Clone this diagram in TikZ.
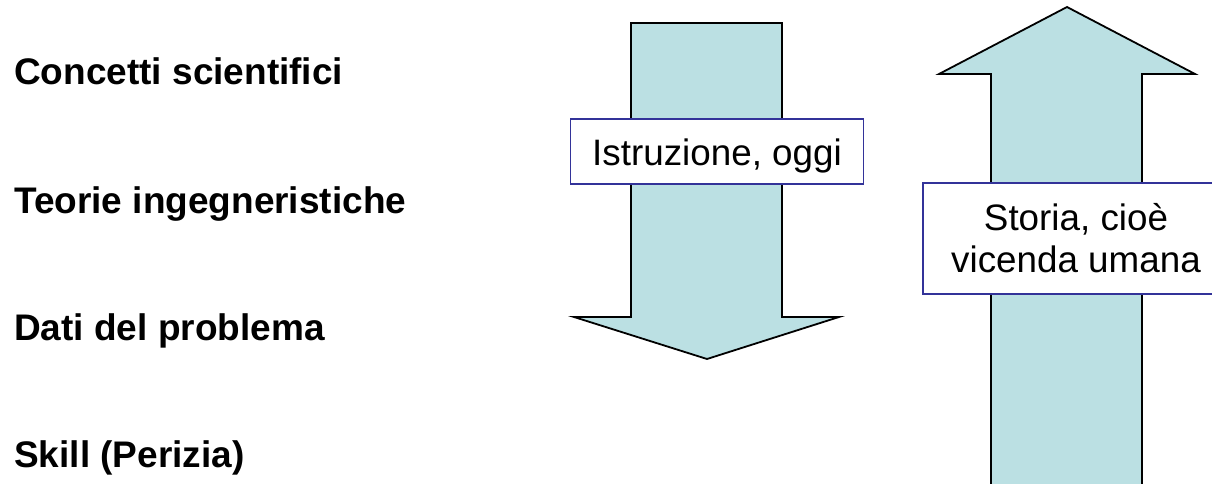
\documentclass[tikz,border=0pt]{standalone}
\usepackage{fontspec}
\setmainfont{Liberation Sans}
\usepackage{tikz}

\definecolor{arrowblue}{HTML}{BBE0E3}
\definecolor{boxblue}{HTML}{333399}

\begin{document}
\begin{tikzpicture}[x=1pt,y=-1pt,
    bigarrow/.style={fill=arrowblue,draw=black,line width=1.8pt,line join=miter},
    labelbox/.style={draw=boxblue,fill=white,line width=1.6pt,inner sep=0pt,
        font=\fontsize{36.8}{42}\selectfont,align=center},
    sidetext/.style={anchor=base west,inner sep=0pt,
        font=\fontsize{37}{42}\selectfont\bfseries}]
    \clip (0,0) rectangle (1212,484);

    \node[sidetext] (concetti) at (14,85) {Concetti scientifici};
    \node[sidetext] (teorie) at (14,213) {Teorie ingegneristiche};
    \node[sidetext] (dati) at (14,340) {Dati del problema};
    \node[sidetext] (skill) at (14,467) {Skill (Perizia)};

    \draw[bigarrow] (631,23) -- (782,23) -- (782,317) -- (839,317) -- (707,359)
        -- (574,317) -- (631,317) -- cycle;
    \draw[bigarrow] (991,520) -- (991,74) -- (939,74) -- (1067,7) -- (1195,74)
        -- (1142,74) -- (1142,520) -- cycle;

    \node[labelbox,minimum width=293pt,minimum height=65pt,
        text height=28pt,text depth=1pt] (istruzione) at (717,151.5) {Istruzione, oggi};
    \node[labelbox,minimum width=306pt,minimum height=111pt] (storia) at (1076,238.5)
        {Storia, cioè\\vicenda umana};
\end{tikzpicture}
\end{document}
